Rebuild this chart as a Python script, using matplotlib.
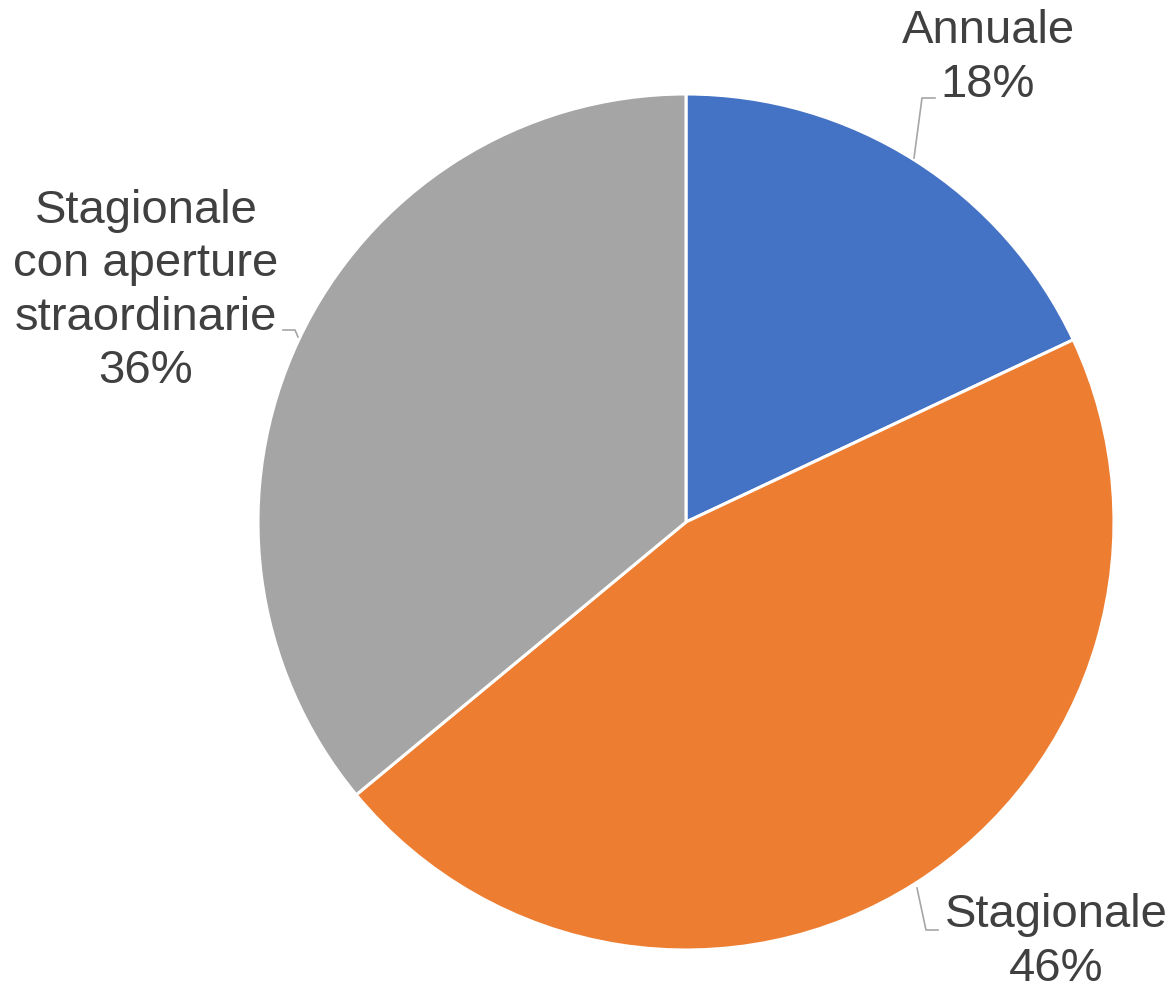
import matplotlib
matplotlib.use("Agg")
import matplotlib.pyplot as plt

categories = ["Annuale", "Stagionale", "Stagionale\ncon aperture\nstraordinarie"]
values = [18, 46, 36]
colors = ["#4472C4", "#ED7D31", "#A5A5A5"]

W, H = 1175, 992
fig = plt.figure(figsize=(W / 100, H / 100), dpi=100)
ax = fig.add_axes([0, 0, 1, 1])

cx, cy, R = 686, H - 522, 428
ax.pie(values, colors=colors, startangle=90, counterclock=False,
       radius=R, center=(cx, cy),
       wedgeprops=dict(edgecolor="white", linewidth=2.2))
ax.set_xlim(0, W)
ax.set_ylim(0, H)
ax.set_aspect("equal")
ax.axis("off")

plt.rcParams["font.family"] = ["Liberation Sans", "DejaVu Sans"]
tc = "#404040"
lc = "#A6A6A6"
fs = 34

# label positions (pixel coords, top-origin)
label_pos = [(988, 58), (1056, 942), (146, 291)]
leaders = [
    [(914, 158), (922, 98), (935, 98)],
    [(917, 888), (926, 930), (938, 930)],
    [(298, 337), (295, 330), (283, 330)],
]
for cat, v, (x, y), ld in zip(categories, values, label_pos, leaders):
    ax.text(x, H - y, f"{cat}\n{v}%", ha="center", va="center",
            fontsize=fs, color=tc, linespacing=1.28,
            family=["Liberation Sans", "DejaVu Sans"])
    xs = [p[0] for p in ld]
    ys = [H - p[1] for p in ld]
    ax.plot(xs, ys, color=lc, lw=1.2)

fig.savefig("out.png", dpi=100, facecolor="white")
